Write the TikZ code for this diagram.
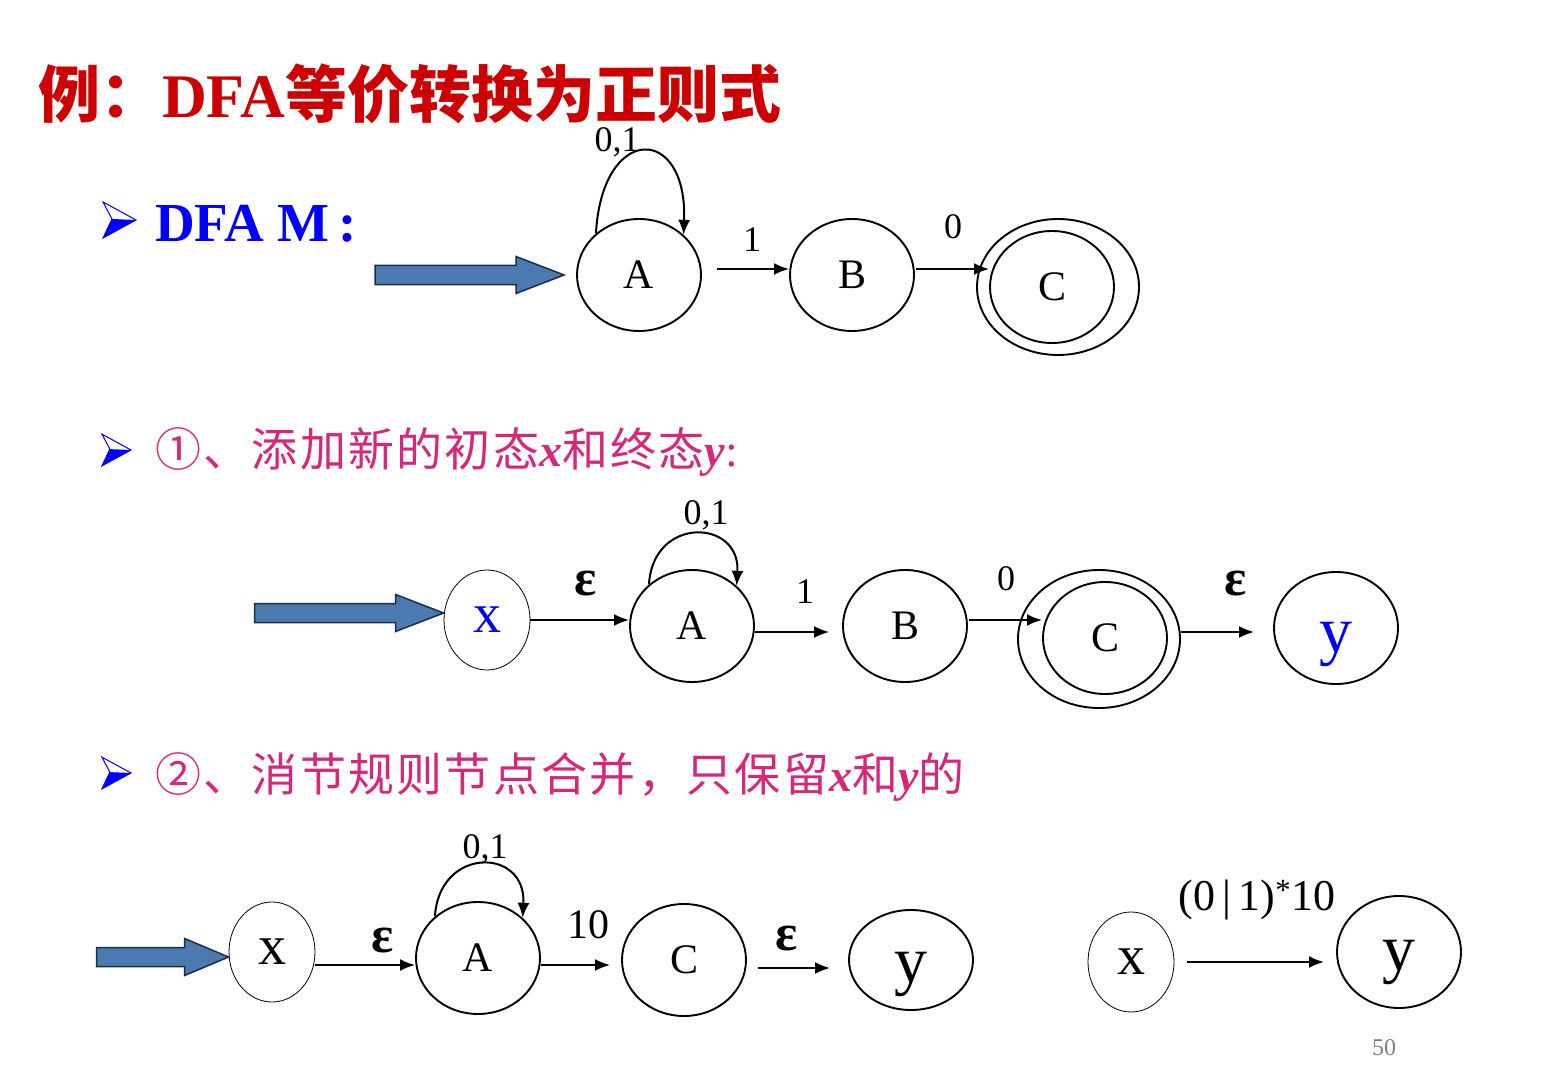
\documentclass[tikz,border=0pt]{standalone}
\usepackage{fontspec}
\setmainfont{Liberation Serif}
\newfontfamily\cjk{Noto Sans CJK SC}
\newfontfamily\cjkp{Noto Sans CJK SC}[LetterSpace=5]
\usetikzlibrary{shapes.geometric,arrows.meta,calc}
\definecolor{titlered}{RGB}{204,0,0}
\definecolor{pinktxt}{RGB}{214,40,122}
\definecolor{arrblue}{RGB}{74,122,176}
\definecolor{arrborder}{RGB}{30,45,70}
\definecolor{pagegray}{RGB}{128,128,128}
\newcommand{\fs}[1]{\fontsize{#1}{#1}\selectfont}
\newcommand{\lowy}[1]{\raisebox{#1}[0pt][0pt]{y}}
\begin{document}
\begin{tikzpicture}[x=1pt,y=-1pt,
  st/.style={ellipse,draw,line width=1.9pt,minimum width=124pt,minimum height=112pt,inner sep=0pt,font=\fs{42}},
  thinst/.style={ellipse,draw,line width=0.8pt,minimum width=86pt,minimum height=100pt,inner sep=0pt,font=\fs{56}},
  edge/.style={line width=2pt,-{Latex[length=15pt,width=12pt]}},
  lab/.style={anchor=base,font=\fs{36},inner sep=0pt},
  eps/.style={anchor=base,font=\bfseries\fs{52},inner sep=0pt},
  bigarr/.style={fill=arrblue,draw=arrborder,line width=1.5pt,line join=miter},
  bul/.pic={
    \draw[blue,line width=1pt,fill=white,line join=miter] (0,0)--(-33,-18)--(-24,-1)--(-33,18)--cycle;
    \fill[blue] (0,0)--(-24,-1)--(-33,18)--cycle;}
]
\fill[white] (0,0) rectangle (1564,1078);
\useasboundingbox (0,0) rectangle (1564,1078);

% title
\node[anchor=base west,inner sep=0pt,text=titlered,font=\bfseries\fs{62}] (title) at (38,118)
  {{\cjk 例：}DFA{\cjk 等价转换为正则式}};

% section 1
\pic at (136,220) {bul};
\node[anchor=base west,inner sep=0pt,text=blue,font=\bfseries\fs{55}] (sec1) at (155,242) {DFA M\,:};

\node[st] (A1) at (639,275) {A};
\node[st] (B1) at (852,275) {B};
\node[st,minimum width=162pt,minimum height=136pt] (C1o) at (1058,287) {};
\node[st] (C1) at (1052,287) {C};
\draw[bigarr] ([xshift=-12pt]A1.west) -- ++(-48,-18.5) -- ++(0,9) -- ++(-141,0) -- ++(0,19) -- ++(141,0) -- ++(0,9) -- cycle;
\draw[edge,shorten <=15pt] ([yshift=6pt]A1.east) -- ([yshift=6pt]B1.west);
\draw[edge,shorten <=1pt] ([yshift=6pt]B1.east) -- ([yshift=6pt]B1.east -| C1.west);
\draw[edge] (A1.136) .. controls +(6,-110) and +(4,-111) .. (A1.42);
\node[lab] (l1a) at (617,152) {0,1};
\node[lab] (l1b) at (752,252) {1};
\node[lab] (l1c) at (953,239) {0};

% section 2
\pic[scale=0.88] at (131,450) {bul};
\node[anchor=base west,inner sep=0pt,text=pinktxt,font=\fs{46}] (sec2) at (155,466)
  {{\cjkp ①、添加新的初态}{\bfseries\itshape x}{\cjkp 和终态}{\bfseries\itshape y}:};

\node[thinst,text=blue] (x2) at (487,620) {x};
\node[st] (A2) at (692,626) {A};
\node[st] (B2) at (905,626) {B};
\node[st,minimum width=162pt,minimum height=138pt] (C2o) at (1099,639) {};
\node[st] (C2) at (1105,638) {C};
\node[st,text=blue,font=\fs{66}] (y2) at (1336,628) {\lowy{-24pt}};
\draw[bigarr] ([yshift=7pt]x2.west) -- ++(-48,-18.5) -- ++(0,9) -- ++(-141,0) -- ++(0,19) -- ++(141,0) -- ++(0,9) -- cycle;
\draw[edge] (x2.east) -- (x2.east -| A2.west);
\draw[edge,shorten >=13pt] ([yshift=-6pt]A2.east) -- ([yshift=-6pt]B2.west);
\draw[edge,shorten <=1pt] ([yshift=6pt]B2.east) -- ([yshift=6pt]B2.east -| C2.west);
\draw[edge,shorten >=19pt] ([yshift=7pt]C2o.east) -- ([yshift=7pt]C2o.east -| y2.west);
\draw[edge] (A2.136) .. controls +(4,-69) and +(4,-67) .. (A2.42);
\node[eps] (e2a) at (586,595) {ε};
\node[lab] (l2a) at (706,524) {0,1};
\node[lab] (l2b) at (805,603) {1};
\node[lab] (l2c) at (1006,590) {0};
\node[eps] (e2b) at (1236,595) {ε};

% section 3
\pic[scale=0.88] at (131,773) {bul};
\node[anchor=base west,inner sep=0pt,text=pinktxt,font=\fs{46}] (sec3) at (155,791)
  {{\cjkp ②、消节规则节点合并，只保留}{\bfseries\itshape x}{\cjkp 和}{\bfseries\itshape y}{\cjkp 的}};

\node[thinst] (x3) at (272,952) {x};
\node[st] (A3) at (478,958) {A};
\node[st] (C3) at (684,960) {C};
\node[st,minimum height=100pt,font=\fs{66}] (y3) at (911,960) {\lowy{-22pt}};
\draw[bigarr] ([yshift=-5pt]x3.west) -- ++(-44,-18.5) -- ++(0,9) -- ++(-88,0) -- ++(0,19) -- ++(88,0) -- ++(0,9) -- cycle;
\draw[edge] ([yshift=-13pt]x3.east) -- ([yshift=-13pt]x3.east -| A3.west);
\draw[edge,shorten >=11pt] ([yshift=-7pt]A3.east) -- ([yshift=-7pt]A3.east -| C3.west);
\draw[edge,shorten <=11pt,shorten >=18pt] ([yshift=-8pt]C3.east) -- ([yshift=-8pt]C3.east -| y3.west);
\draw[edge] (A3.136) .. controls +(4,-70) and +(4,-71) .. (A3.42);
\node[eps] (e3a) at (383,952) {ε};
\node[lab] (l3a) at (485,858) {0,1};
\node[lab,font=\fs{42}] (l3b) at (588,938) {10};
\node[eps] (e3b) at (787,950) {ε};

\node[thinst] (x4) at (1131,962) {x};
\node[st,font=\fs{66}] (y4) at (1399,952) {\lowy{-18pt}};
\draw[edge,shorten <=13pt,shorten >=12pt] (x4.east) -- (x4.east -| y4.west);
\node[lab,font=\fs{44}] (l4) at (1257,910) {(0\,|\,1)\textsuperscript{*}10};

\node[anchor=base,inner sep=0pt,text=pagegray,font=\fs{24}] (page) at (1384,1055) {50};
\end{tikzpicture}
\end{document}
